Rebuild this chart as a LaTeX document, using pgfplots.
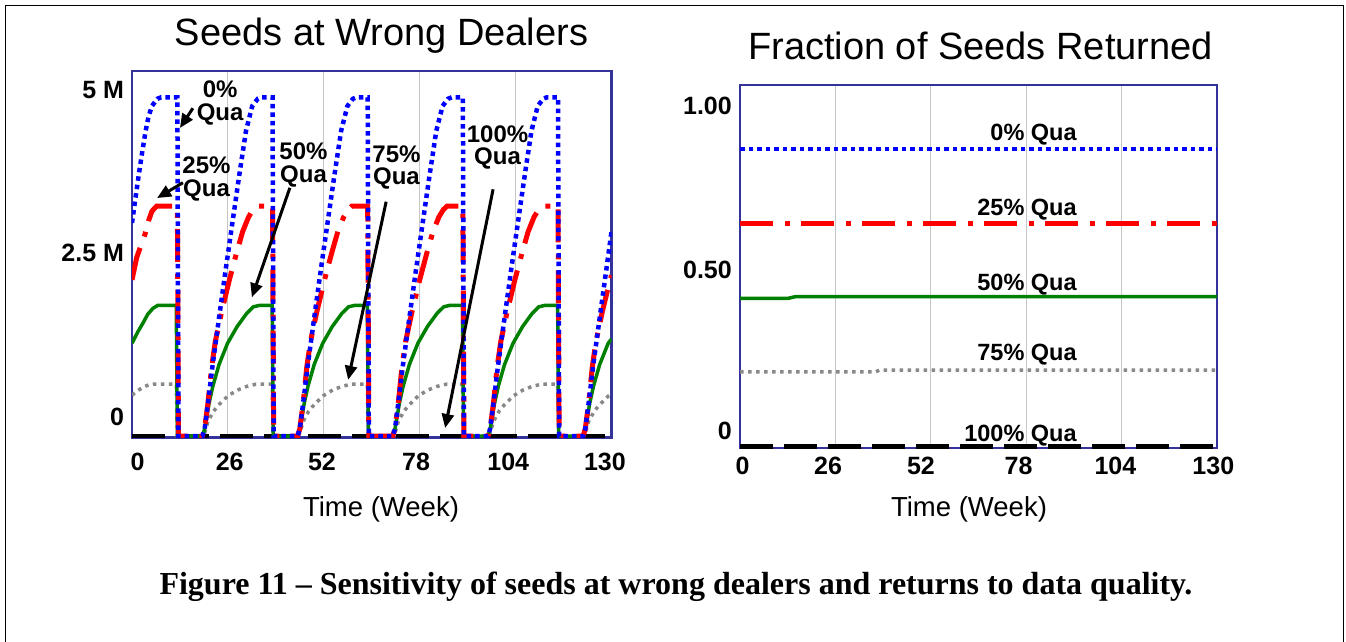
\documentclass[border=0pt]{standalone}
\usepackage{fontspec}
\setmainfont{Liberation Sans}
\newfontfamily\capfont{Liberation Serif}
\usepackage{pgfplots}
\pgfplotsset{compat=1.18}
\usetikzlibrary{arrows.meta}
\definecolor{axnavy}{RGB}{51,51,153}
\definecolor{vblue}{RGB}{0,0,255}
\definecolor{vred}{RGB}{255,0,0}
\definecolor{vgreen}{RGB}{0,128,0}
\definecolor{vgray}{RGB}{136,136,136}
\pgfplotsset{
  vaxis/.style={scale only axis, xmin=0, xmax=130,
    axis line style={axnavy, line width=2.5pt},
    xtick={26,52,78,104}, xticklabels={},
    xmajorgrids, grid style={gray!45, line width=1pt},
    major tick length=0pt, tick style={draw=none},
    ticklabel style={font=\fontsize{25}{25}\selectfont\bfseries},
  },
  sblue/.style={vblue, line width=4.5pt, line cap=butt, dash pattern=on 4.5pt off 4pt},
  sred/.style={vred, line width=5pt, line cap=butt, dash pattern=on 33pt off 12pt on 5pt off 11pt},
  sgreen/.style={vgreen, line width=3.5pt},
  sgray/.style={vgray, line width=3.5pt, line cap=butt, dash pattern=on 3.5pt off 4.5pt},
  sblack/.style={black, line width=5pt, line cap=butt, dash pattern=on 33pt off 11pt},
}
\begin{document}
\begin{tikzpicture}
\useasboundingbox (0pt,0pt) rectangle (1346pt,641pt);
\draw[line width=1.5pt] (5.3pt,-5pt) -- (5.3pt,635.7pt) -- (1343.5pt,635.7pt) -- (1343.5pt,-5pt);

% ---------------- left chart ----------------
\begin{axis}[vaxis, at={(132pt,203.5pt)}, anchor=south west,
  width=479.5pt, height=366.5pt, ymin=-0.02, ymax=5.0,
  ytick={0.26,2.507,4.74}, yticklabels={0,2.5 M,5 M},
  yticklabel style={xshift=-4.5pt},
  extra x ticks={1.5,26.5,51.5,77,102,128.2},
  extra x tick labels={0,26,52,78,104,130},
  extra x tick style={grid=none, xticklabel style={yshift=-12pt}},
]
\addplot[sblack] coordinates {(0,0) (130,0)};
\addplot[sgray] coordinates {
(0,0.56) (1.5,0.62) (3,0.67) (4.5,0.7) (5.7,0.71) (12.0,0.71) (12.3,0) (19.1,0)
(19.7,0.04) (20.6,0.2) (22.1,0.34) (23.6,0.43) (26,0.55) (28.6,0.63) (31.1,0.68) (33.6,0.71) (38.0,0.71) (38.3,0) (44.9,0)
(45.5,0.04) (46.4,0.2) (47.9,0.34) (49.4,0.43) (51.8,0.55) (54.4,0.63) (56.9,0.68) (59.4,0.71) (63.8,0.71) (64.1,0) (70.7,0)
(71.3,0.04) (72.2,0.2) (73.7,0.34) (75.2,0.43) (77.6,0.55) (80.2,0.63) (82.7,0.68) (85.2,0.71) (89.6,0.71) (89.9,0) (96.5,0)
(97.1,0.04) (98,0.2) (99.5,0.34) (101,0.43) (103.4,0.55) (106,0.63) (108.5,0.68) (111,0.71) (115.4,0.71) (115.7,0) (122.3,0)
(122.9,0.04) (123.8,0.2) (125.3,0.34) (126.8,0.43) (129.2,0.55) (130,0.57)};
\addplot[sgreen] coordinates {
(0,1.27) (1.5,1.42) (3,1.55) (4.3,1.67) (5.7,1.75) (7,1.79) (12.0,1.79) (12.3,0) (19.1,0)
(19.7,0.1) (20.9,0.45) (21.9,0.68) (23.6,0.98) (25.9,1.27) (28.5,1.5) (31.1,1.68) (32.9,1.77) (34.6,1.79) (38.0,1.79) (38.3,0) (44.9,0)
(45.5,0.1) (46.7,0.45) (47.7,0.68) (49.4,0.98) (51.7,1.27) (54.3,1.5) (56.9,1.68) (58.7,1.77) (60.4,1.79) (63.8,1.79) (64.1,0) (70.7,0)
(71.3,0.1) (72.5,0.45) (73.5,0.68) (75.2,0.98) (77.5,1.27) (80.1,1.5) (82.7,1.68) (84.5,1.77) (86.2,1.79) (89.6,1.79) (89.9,0) (96.5,0)
(97.1,0.1) (98.3,0.45) (99.3,0.68) (101,0.98) (103.3,1.27) (105.9,1.5) (108.5,1.68) (110.3,1.77) (112,1.79) (115.4,1.79) (115.7,0) (122.3,0)
(122.9,0.1) (124.1,0.45) (125.1,0.68) (126.8,0.98) (129.1,1.27) (130,1.33)};
\addplot[sred] coordinates {
(0,2.14) (1.3,2.45) (2.5,2.62) (3.5,2.76) (4.5,2.95) (5.4,3.08) (6.7,3.15) (12.3,3.15) (12.6,0) (19.1,0)
(19.7,0.1) (20.6,0.45) (21.6,0.95) (22.6,1.3) (24.3,1.7) (26.4,2.14) (28.3,2.5) (30,2.8) (31.6,3.0) (32.8,3.1) (33.8,3.15) (38.1,3.15) (38.4,0) (44.9,0)
(45.5,0.1) (46.4,0.45) (47.4,0.95) (48.4,1.3) (50.1,1.7) (52.2,2.14) (54.1,2.5) (55.8,2.8) (57.4,3.0) (58.6,3.1) (59.6,3.15) (63.9,3.15) (64.2,0) (70.7,0)
(71.3,0.1) (72.2,0.45) (73.2,0.95) (74.2,1.3) (75.9,1.7) (78,2.14) (79.9,2.5) (81.6,2.8) (83.2,3.0) (84.4,3.1) (85.4,3.15) (89.7,3.15) (90,0) (96.5,0)
(97.1,0.1) (98,0.45) (99,0.95) (100,1.3) (101.7,1.7) (103.8,2.14) (105.7,2.5) (107.4,2.8) (109,3.0) (110.2,3.1) (111.2,3.15) (115.5,3.15) (115.8,0) (122.3,0)
(122.9,0.1) (123.8,0.45) (124.8,0.95) (125.8,1.3) (127.5,1.7) (129.6,2.14) (130,2.2)};
\addplot[sblue] coordinates {
(0,2.92) (1,3.28) (1.9,3.6) (2.8,3.9) (3.7,4.18) (4.5,4.38) (5.4,4.52) (6.9,4.62) (7.9,4.64) (12.3,4.64) (12.6,0) (19.1,0)
(19.7,0.1) (20.6,0.45) (21.8,0.95) (23.6,1.62) (25.4,2.28) (27.1,2.88) (29.1,3.58) (30.9,4.18) (32.6,4.52) (34.1,4.62) (35.1,4.64) (38.1,4.64) (38.4,0) (44.9,0)
(45.5,0.1) (46.4,0.45) (47.6,0.95) (49.4,1.62) (51.2,2.28) (52.9,2.88) (54.9,3.58) (56.7,4.18) (58.4,4.52) (59.9,4.62) (60.9,4.64) (63.9,4.64) (64.2,0) (70.7,0)
(71.3,0.1) (72.2,0.45) (73.4,0.95) (75.2,1.62) (77,2.28) (78.7,2.88) (80.7,3.58) (82.5,4.18) (84.2,4.52) (85.7,4.62) (86.7,4.64) (89.7,4.64) (90,0) (96.5,0)
(97.1,0.1) (98,0.45) (99.2,0.95) (101,1.62) (102.8,2.28) (104.5,2.88) (106.5,3.58) (108.3,4.18) (110,4.52) (111.5,4.62) (112.5,4.64) (115.5,4.64) (115.8,0) (122.3,0)
(122.9,0.1) (123.8,0.45) (125,0.95) (126.8,1.62) (128.6,2.28) (130,2.8)};
% labels and arrows
\tikzset{lab/.style={align=center, font=\fontsize{24}{22.5}\selectfont\bfseries, inner sep=0pt},
         arr/.style={line width=3pt, -{Triangle[length=14pt,width=12pt]}}}
\node[lab] at (axis cs:23.9,4.56) {0\%\\Qua};
\draw[arr] (axis cs:16.5,4.49) -- (axis cs:13.0,4.22);
\node[lab] at (axis cs:20.2,3.52) {25\%\\Qua};
\draw[arr] (axis cs:13.8,3.47) -- (axis cs:6.8,3.26);
\node[lab] at (axis cs:46.5,3.71) {50\%\\Qua};
\draw[arr] (axis cs:42.8,3.40) -- (axis cs:32.5,1.90);
\node[lab] at (axis cs:71.7,3.68) {75\%\\Qua};
\draw[arr] (axis cs:68.9,3.21) -- (axis cs:58.6,0.77);
\node[lab] at (axis cs:99.1,3.95) {100\%\\Qua};
\draw[arr] (axis cs:97.9,3.38) -- (axis cs:84.9,0.11);
\end{axis}

% ---------------- right chart ----------------
\begin{axis}[vaxis, at={(740pt,193pt)}, anchor=south west,
  width=477pt, height=363pt, ymin=-0.004, ymax=0.996,
  ytick={0.043,0.486,0.938}, yticklabels={0,0.50,1.00},
  yticklabel style={xshift=-4.7pt},
  extra x ticks={0.7,24,49.3,75.9,102.3,129},
  extra x tick labels={0,26,52,78,104,130},
  extra x tick style={grid=none, xticklabel style={yshift=-5.7pt}},
]
\addplot[sblack] coordinates {(0,0) (130,0)};
\addplot[sgray] coordinates {(0,0.206) (37,0.206) (38,0.2107) (130,0.2107)};
\addplot[sgreen] coordinates {(0,0.408) (13,0.408) (15,0.4127) (130,0.4127)};
\addplot[sred] coordinates {(0,0.6157) (130,0.6157)};
\addplot[sblue] coordinates {(0,0.8196) (130,0.8196)};
\tikzset{rlab/.style={anchor=east, font=\fontsize{23.5}{23.5}\selectfont\bfseries, inner sep=0pt}}
\node[rlab] at (axis cs:91.8,0.858) {0\% Qua};
\node[rlab] at (axis cs:91.8,0.6515) {25\% Qua};
\node[rlab] at (axis cs:91.8,0.445) {50\% Qua};
\node[rlab] at (axis cs:91.8,0.252) {75\% Qua};
\node[rlab] at (axis cs:91.8,0.029) {100\% Qua};
\end{axis}

% titles, axis labels, caption
\node[anchor=base, font=\fontsize{38}{38}\selectfont] at (381.5pt,595pt) {Seeds at Wrong Dealers};
\node[anchor=base, font=\fontsize{38}{38}\selectfont] at (980.5pt,581pt) {Fraction of Seeds Returned};
\node[anchor=base, font=\fontsize{27.5}{27.5}\selectfont] at (381pt,124.3pt) {Time (Week)};
\node[anchor=base, font=\fontsize{27.5}{27.5}\selectfont] at (969pt,124.3pt) {Time (Week)};
\node[anchor=base, font=\capfont\bfseries\fontsize{32}{32}\selectfont] at (676pt,47pt) {Figure 11 – Sensitivity of seeds at wrong dealers and returns to data quality.};
\end{tikzpicture}
\end{document}
